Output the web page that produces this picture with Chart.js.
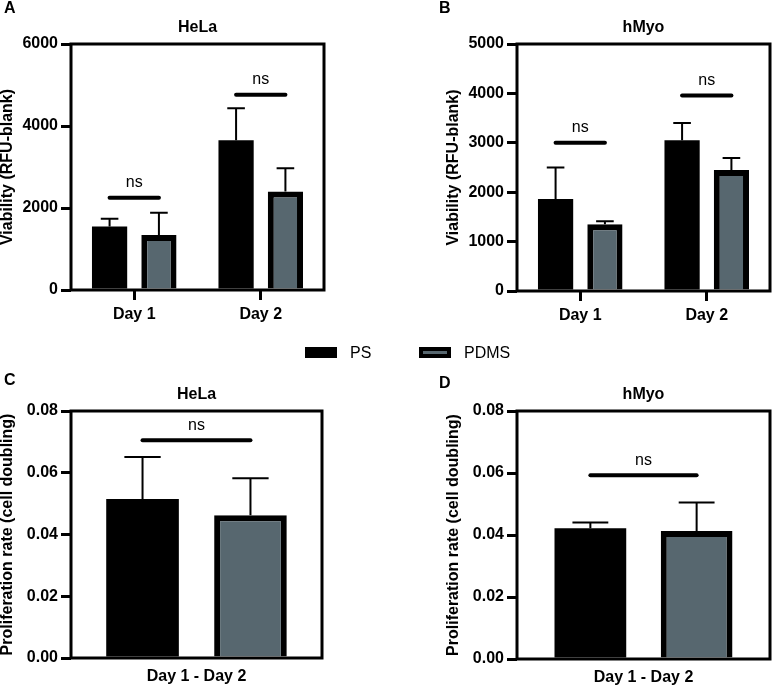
<!DOCTYPE html>
<html>
<head>
<meta charset="utf-8">
<script src="https://cdn.jsdelivr.net/npm/chart.js@4.4.1/dist/chart.umd.min.js"></script>
<style>
  body { margin: 0; background: #fff; font-family: "Liberation Sans", Arial, sans-serif; }
  #fig { position: relative; width: 772px; height: 685px; overflow: hidden; }
  .panel { position: absolute; }
  .letter { position: absolute; font-weight: bold; font-size: 16px; line-height: 16px; }
  .leg { position: absolute; top: 344px; font-size: 16px; line-height: 18px; }
  .sw { position: absolute; width: 32px; height: 11px; box-sizing: border-box; }
</style>
</head>
<body>
<div id="fig">
  <div class="panel" style="left:0;top:0;width:386px;height:325px"><canvas id="chart-a"></canvas></div>
  <div class="panel" style="left:386px;top:0;width:386px;height:325px"><canvas id="chart-b"></canvas></div>
  <div class="panel" style="left:0;top:365px;width:386px;height:320px"><canvas id="chart-c"></canvas></div>
  <div class="panel" style="left:386px;top:365px;width:386px;height:320px"><canvas id="chart-d"></canvas></div>

  <div class="letter" style="left:4px;top:0px">A</div>
  <div class="letter" style="left:439px;top:0px">B</div>
  <div class="letter" style="left:4px;top:372px">C</div>
  <div class="letter" style="left:439px;top:375px">D</div>

  <div class="sw" style="left:305px;top:347px;background:#000"></div>
  <div class="leg" style="left:350px">PS</div>
  <div class="sw" style="left:419px;top:347px;background:#57676f;border:4px solid #000"></div>
  <div class="leg" style="left:464px">PDMS</div>
</div>

<script>
// Dados
const days = ["Day 1", "Day 2"];
const prolifLabel = ["Day 1 - Day 2"];

// A - HeLa viabilidade
const helaViabPS = [1550, 3650];
const helaViabPSErr = [190, 780];
const helaViabPDMS = [1340, 2400];
const helaViabPDMSErr = [545, 570];
const helaViabSig = [2250, 4760];

// B - hMyo viabilidade
const hmyoViabPS = [1860, 3050];
const hmyoViabPSErr = [640, 350];
const hmyoViabPDMS = [1350, 2450];
const hmyoViabPDMSErr = [60, 240];
const hmyoViabSig = [3000, 3960];

// C - HeLa proliferação
const helaProlifPS = [0.0515];
const helaProlifPSErr = [0.0136];
const helaProlifPDMS = [0.0462];
const helaProlifPDMSErr = [0.012];
const helaProlifSig = [0.0705];

// D - hMyo proliferação
const hmyoProlifPS = [0.0422];
const hmyoProlifPSErr = [0.0018];
const hmyoProlifPDMS = [0.0413];
const hmyoProlifPDMSErr = [0.0092];
const hmyoProlifSig = [0.0593];

const psColor = "#000000";
const pdmsColor = "#57676f";
const fontFam = "'Liberation Sans', Arial, sans-serif";

// moldura, barras de erro, linhas "ns" e título
const figPlugin = {
  id: "figPlugin",
  afterDatasetsDraw(chart, args, opts) {
    const { ctx, chartArea, scales } = chart;
    const y = scales.y;
    ctx.save();

    // barras de erro (só para cima)
    chart.data.datasets.forEach((ds, di) => {
      const meta = chart.getDatasetMeta(di);
      meta.data.forEach((bar, i) => {
        const top = y.getPixelForValue(ds.data[i] + ds.err[i]);
        const base = y.getPixelForValue(ds.data[i]);
        const cap = bar.width * 0.5;
        ctx.strokeStyle = "#000";
        ctx.lineWidth = 2;
        ctx.beginPath();
        ctx.moveTo(bar.x, base);
        ctx.lineTo(bar.x, top);
        ctx.moveTo(bar.x - cap / 2, top);
        ctx.lineTo(bar.x + cap / 2, top);
        ctx.stroke();
      });
    });

    // linhas de significância
    const m0 = chart.getDatasetMeta(0);
    const m1 = chart.getDatasetMeta(1);
    opts.sig.forEach((v, i) => {
      const py = y.getPixelForValue(v);
      ctx.strokeStyle = "#000";
      ctx.lineWidth = 4;
      ctx.lineCap = "round";
      ctx.beginPath();
      ctx.moveTo(m0.data[i].x, py);
      ctx.lineTo(m1.data[i].x, py);
      ctx.stroke();
      ctx.fillStyle = "#000";
      ctx.font = "16px " + fontFam;
      ctx.textAlign = "center";
      ctx.textBaseline = "middle";
      ctx.fillText("ns", (m0.data[i].x + m1.data[i].x) / 2, py - 15);
    });

    // moldura
    ctx.lineCap = "butt";
    ctx.lineWidth = 3;
    ctx.strokeStyle = "#000";
    ctx.strokeRect(chartArea.left, chartArea.top, chartArea.right - chartArea.left, chartArea.bottom - chartArea.top);

    // título
    ctx.fillStyle = "#000";
    ctx.font = "bold 16px " + fontFam;
    ctx.textAlign = "center";
    ctx.textBaseline = "middle";
    ctx.fillText(opts.title, (chartArea.left + chartArea.right) / 2, chartArea.top - 16);
    ctx.restore();
  },
};

const makePanel = (id, cfg) => {
  const ctx = document.getElementById(id).getContext("2d");
  new Chart(ctx, {
    type: "bar",
    data: {
      labels: cfg.labels,
      datasets: [
        {
          label: "PS",
          data: cfg.ps,
          err: cfg.psErr,
          backgroundColor: psColor,
          borderWidth: 0,
          categoryPercentage: cfg.catPct,
          barPercentage: cfg.barPct,
        },
        {
          label: "PDMS",
          data: cfg.pdms,
          err: cfg.pdmsErr,
          backgroundColor: pdmsColor,
          borderColor: "#000",
          borderWidth: 6,
          borderSkipped: "bottom",
          categoryPercentage: cfg.catPct,
          barPercentage: cfg.barPct,
        },
      ],
    },
    options: {
      responsive: true,
      maintainAspectRatio: false,
      animation: false,
      devicePixelRatio: 1,
      layout: { padding: cfg.padding },
      plugins: {
        legend: { display: false },
        tooltip: { enabled: false },
        figPlugin: { sig: cfg.sig, title: cfg.title },
      },
      scales: {
        x: {
          grid: {
            display: cfg.xTicks,
            drawOnChartArea: false,
            drawTicks: cfg.xTicks,
            offset: false,
            tickLength: 10,
            lineWidth: 3,
            color: "#000",
          },
          border: { display: false },
          ticks: {
            color: "#000",
            font: { family: fontFam, size: 16, weight: "bold" },
            padding: cfg.xPad,
          },
          afterFit: (s) => { s.height = cfg.xHeight; },
        },
        y: {
          min: 0,
          max: cfg.yMax,
          ticks: {
            stepSize: cfg.step,
            color: "#000",
            font: { family: fontFam, size: 16, weight: "bold" },
            padding: 3,
            callback: cfg.fmt,
          },
          grid: {
            drawOnChartArea: false,
            drawTicks: true,
            tickLength: 10,
            lineWidth: 3,
            color: "#000",
          },
          border: { display: false },
          title: {
            display: true,
            text: cfg.yTitle,
            color: "#000",
            font: { family: fontFam, size: 16, weight: "bold" },
            padding: 0,
          },
          afterFit: (s) => { s.width = 73; },
        },
      },
    },
    plugins: [figPlugin],
  });
};

const intFmt = (v) => String(v);
const decFmt = (v) => Number(v).toFixed(2);

makePanel("chart-a", {
  labels: days, ps: helaViabPS, psErr: helaViabPSErr, pdms: helaViabPDMS, pdmsErr: helaViabPDMSErr,
  sig: helaViabSig, title: "HeLa", yTitle: "Viability (RFU-blank)", yMax: 6000, step: 2000, fmt: intFmt,
  catPct: 0.78, barPct: 0.714, xTicks: true, xPad: 5, xHeight: 35,
  padding: { top: 44, left: -2, right: 62, bottom: 0 },
});

makePanel("chart-b", {
  labels: days, ps: hmyoViabPS, psErr: hmyoViabPSErr, pdms: hmyoViabPDMS, pdmsErr: hmyoViabPDMSErr,
  sig: hmyoViabSig, title: "hMyo", yTitle: "Viability (RFU-blank)", yMax: 5000, step: 1000, fmt: intFmt,
  catPct: 0.78, barPct: 0.714, xTicks: true, xPad: 5, xHeight: 34,
  padding: { top: 44, left: 58, right: 2, bottom: 0 },
});

makePanel("chart-c", {
  labels: prolifLabel, ps: helaProlifPS, psErr: helaProlifPSErr, pdms: helaProlifPDMS, pdmsErr: helaProlifPDMSErr,
  sig: helaProlifSig, title: "HeLa", yTitle: "Proliferation rate (cell doubling)", yMax: 0.08, step: 0.02, fmt: decFmt,
  catPct: 0.86, barPct: 0.673, xTicks: false, xPad: 9, xHeight: 27,
  padding: { top: 46, left: -2, right: 64, bottom: 0 },
});

makePanel("chart-d", {
  labels: prolifLabel, ps: hmyoProlifPS, psErr: hmyoProlifPSErr, pdms: hmyoProlifPDMS, pdmsErr: hmyoProlifPDMSErr,
  sig: hmyoProlifSig, title: "hMyo", yTitle: "Proliferation rate (cell doubling)", yMax: 0.08, step: 0.02, fmt: decFmt,
  catPct: 0.84, barPct: 0.675, xTicks: false, xPad: 9, xHeight: 26,
  padding: { top: 46, left: 58, right: 2, bottom: 0 },
});
</script>
</body>
</html>
